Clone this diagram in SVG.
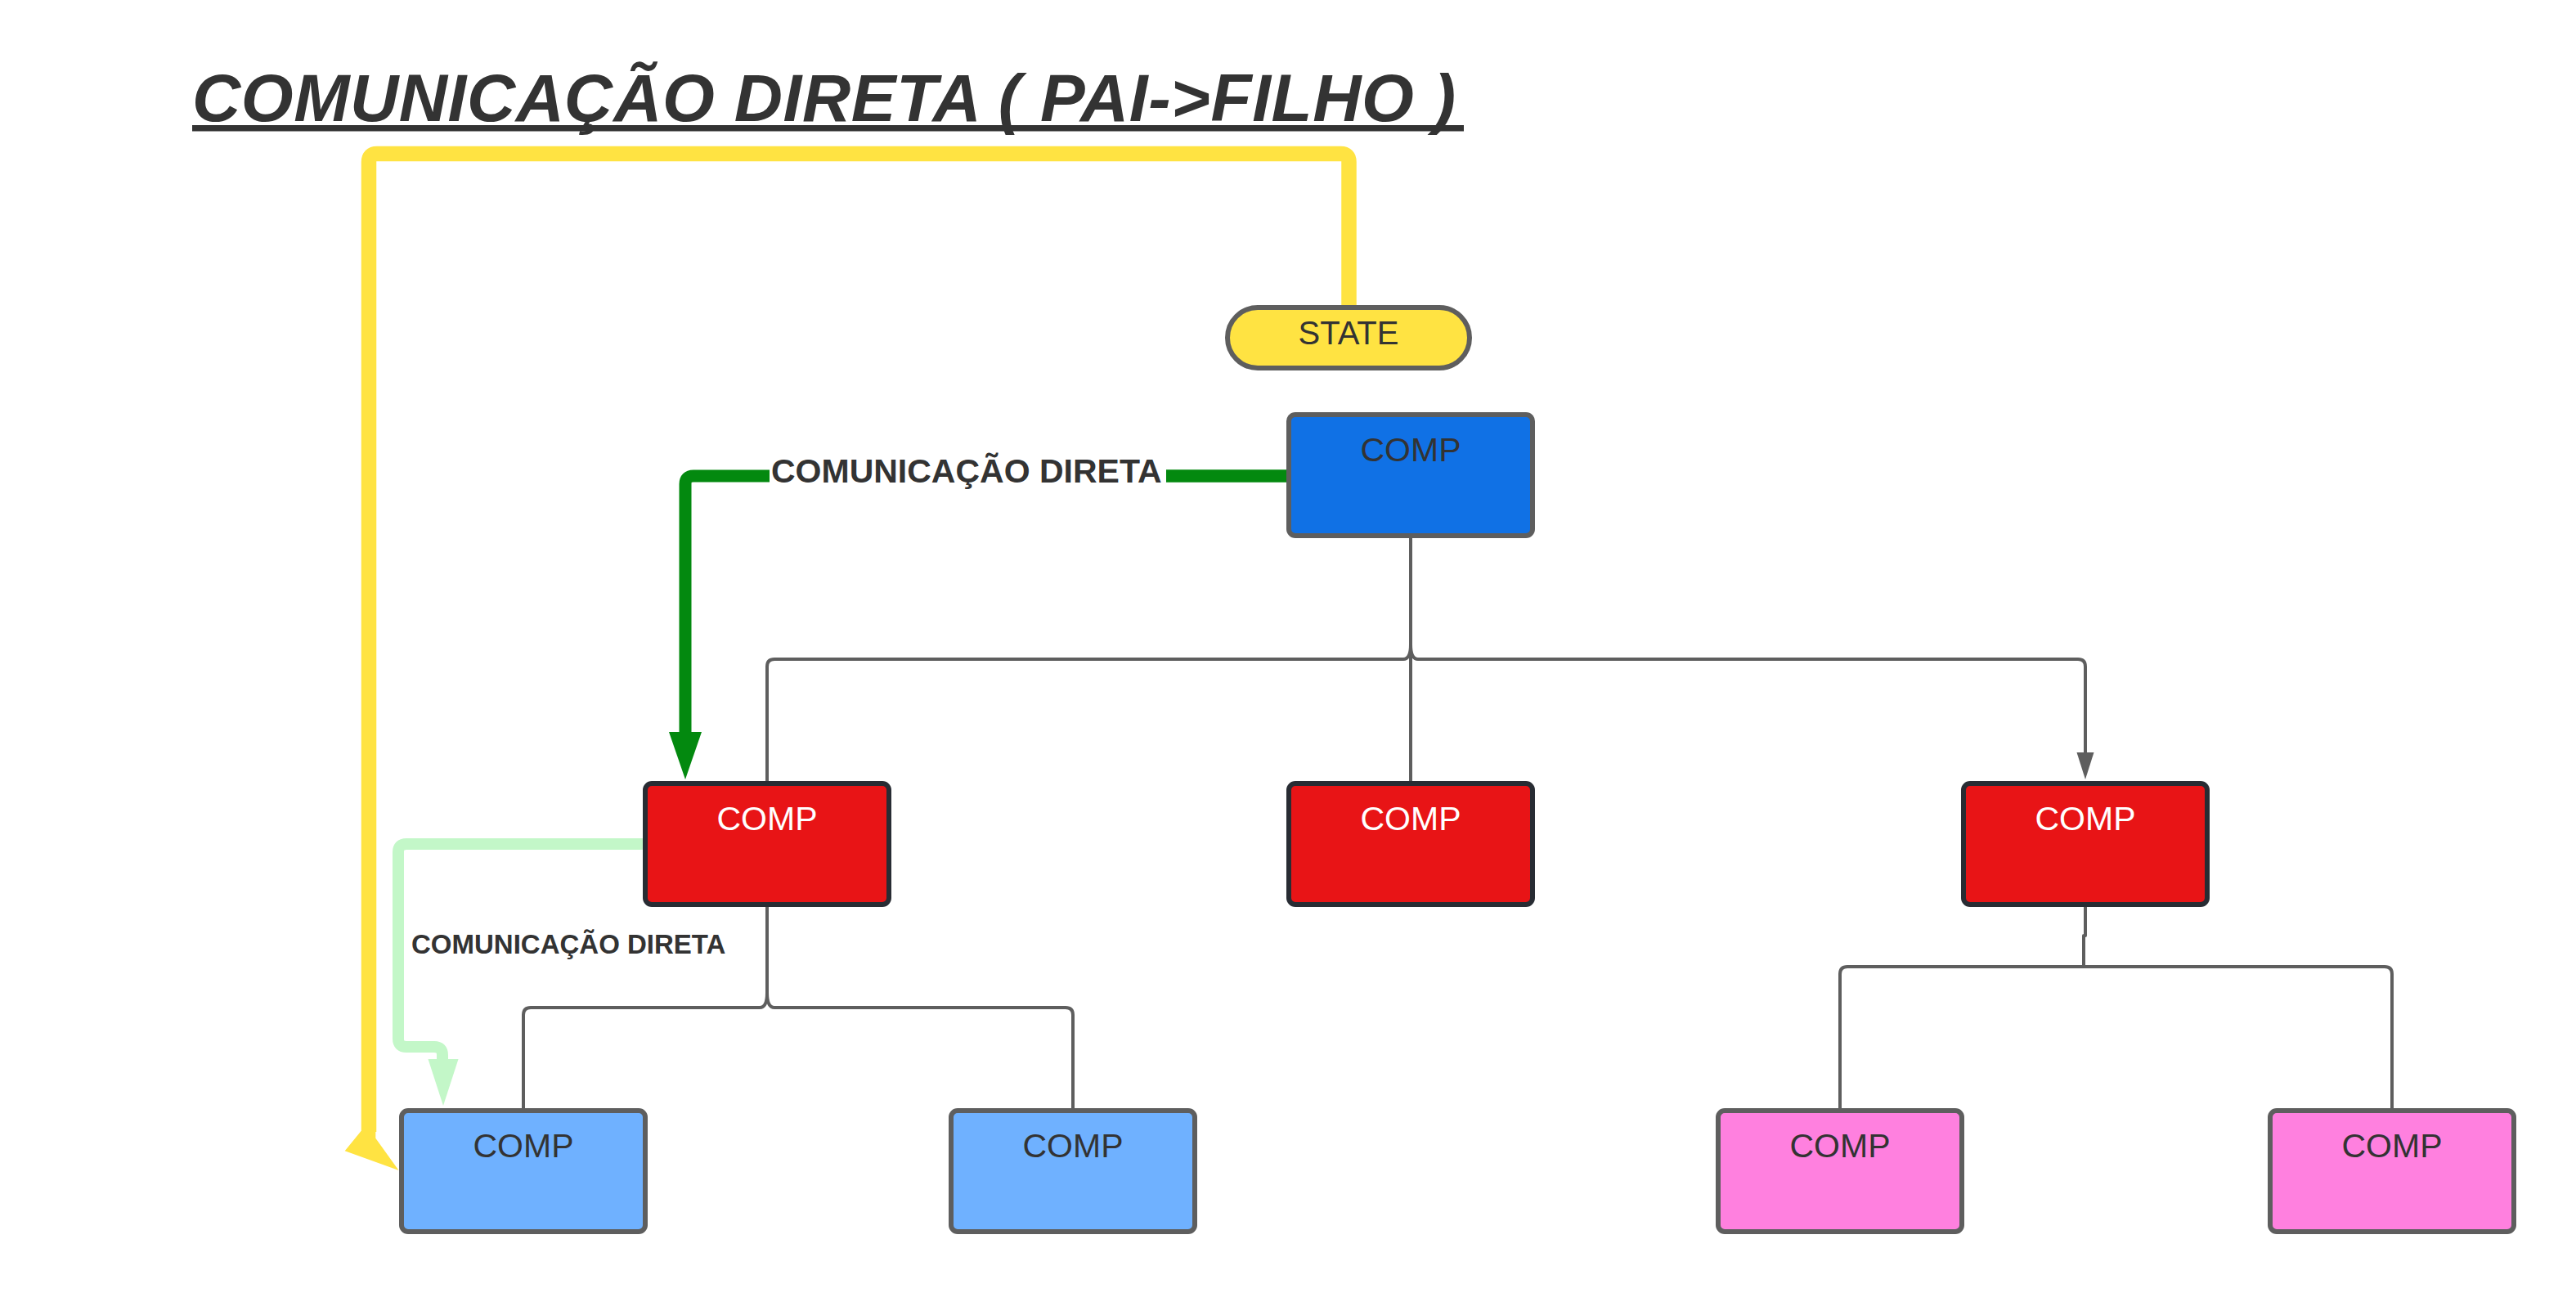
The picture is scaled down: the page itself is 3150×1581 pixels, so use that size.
<svg xmlns="http://www.w3.org/2000/svg" width="3150" height="1581" viewBox="0 0 3150 1581">
<style>
  .box { stroke-width: 6; }
  .gray { stroke: #5e5e5e; }
  .dark { stroke: #282c33; }
  .lbl { font-family: "Liberation Sans", Arial, sans-serif; font-size: 41px; text-anchor: middle; fill: #333333; }
  .wlbl { fill: #ffffff; }
  .tree { fill: none; stroke: #5e5e5e; stroke-width: 4; stroke-linejoin: round; }
  .bold { font-family: "Liberation Sans", Arial, sans-serif; font-weight: bold; fill: #333333; }
</style>
<rect x="0" y="0" width="3150" height="1581" fill="#ffffff"/>

<g id="title">
  <text x="235" y="148" font-family="Liberation Sans, Arial, sans-serif" font-size="82" font-weight="bold" font-style="italic" fill="#333333" textLength="1545" lengthAdjust="spacing">COMUNICAÇÃO DIRETA ( PAI-&gt;FILHO )</text>
  <rect x="235" y="153" width="1555" height="7.5" fill="#333333"/>
</g>

<g id="connectors">
  <!-- tree: top comp to row 2 -->
  <path class="tree" d="M1725 658 V955"/>
  <path class="tree" d="M1725 788 Q1725 806 1716 806 H947 Q938 806 938 815 V955"/>
  <path class="tree" d="M1725 788 Q1725 806 1734 806 H2541 Q2550 806 2550 815 V922"/>
  <polygon points="2539.5,920 2560.5,920 2550,953" fill="#5e5e5e"/>
  <!-- tree: red1 to light blues -->
  <path class="tree" d="M938 1109 V1214 Q938 1232 929 1232 H649 Q640 1232 640 1241 V1355"/>
  <path class="tree" d="M938 1214 Q938 1232 947 1232 H1303 Q1312 1232 1312 1241 V1355"/>
  <!-- tree: red3 to pinks -->
  <path class="tree" d="M2550 1109 V1144 H2548 V1182"/>
  <path class="tree" d="M2548 1182 H2259 Q2250 1182 2250 1191 V1355"/>
  <path class="tree" d="M2548 1182 H2916 Q2925 1182 2925 1191 V1355"/>

  <!-- yellow: state to light blue -->
  <path d="M1649.5 374 V198 Q1649.5 188 1639.5 188 H461 Q451 188 451 198 V1384" fill="none" stroke="#ffe342" stroke-width="18.5"/>
  <polygon points="441.5,1383 421.7,1407.3 487.5,1431 459.3,1391.7 459.3,1383" fill="#ffe342"/>

  <!-- green: top comp to red1 -->
  <path d="M1573 582 H1426" fill="none" stroke="#03890f" stroke-width="15.5"/>
  <path d="M941 582 H848 Q838 582 838 592 V897" fill="none" stroke="#03890f" stroke-width="15"/>
  <polygon points="818,895 858,895 838,953" fill="#03890f"/>
  <text class="bold" x="943" y="590" font-size="41">COMUNICAÇÃO DIRETA</text>

  <!-- light green: red1 to light blue -->
  <path d="M788 1032 H497 Q487 1032 487 1042 V1270 Q487 1280 497 1280 H531 Q541 1280 541 1290 V1297" fill="none" stroke="#c3f7c8" stroke-width="14"/>
  <polygon points="523.5,1295 560.5,1295 542,1352" fill="#c3f7c8"/>
  <text class="bold" x="503" y="1166" font-size="33">COMUNICAÇÃO DIRETA</text>
</g>

<g id="state">
  <rect x="1501" y="376" width="296" height="74" rx="37" ry="37" fill="#ffe342" stroke="#5e5e5e" stroke-width="6"/>
  <text class="lbl" x="1649" y="421" font-size="40" style="font-size:40px">STATE</text>
</g>

<g id="comp-top">
  <rect class="box gray" x="1576" y="507" width="298" height="148" rx="8" fill="#1071e5"/>
  <text class="lbl" x="1725" y="564">COMP</text>
</g>

<g id="comp-red-1">
  <rect class="box dark" x="789" y="958" width="298" height="148" rx="8" fill="#e81416"/>
  <text class="lbl wlbl" x="938" y="1015">COMP</text>
</g>
<g id="comp-red-2">
  <rect class="box dark" x="1576" y="958" width="298" height="148" rx="8" fill="#e81416"/>
  <text class="lbl wlbl" x="1725" y="1015">COMP</text>
</g>
<g id="comp-red-3">
  <rect class="box dark" x="2401" y="958" width="298" height="148" rx="8" fill="#e81416"/>
  <text class="lbl wlbl" x="2550" y="1015">COMP</text>
</g>

<g id="comp-lightblue-1">
  <rect class="box gray" x="491" y="1358" width="298" height="148" rx="8" fill="#6fb1ff"/>
  <text class="lbl" x="640" y="1415">COMP</text>
</g>
<g id="comp-lightblue-2">
  <rect class="box gray" x="1163" y="1358" width="298" height="148" rx="8" fill="#6fb1ff"/>
  <text class="lbl" x="1312" y="1415">COMP</text>
</g>

<g id="comp-pink-1">
  <rect class="box gray" x="2101" y="1358" width="298" height="148" rx="8" fill="#ff80df"/>
  <text class="lbl" x="2250" y="1415">COMP</text>
</g>
<g id="comp-pink-2">
  <rect class="box gray" x="2776" y="1358" width="298" height="148" rx="8" fill="#ff80df"/>
  <text class="lbl" x="2925" y="1415">COMP</text>
</g>
</svg>
